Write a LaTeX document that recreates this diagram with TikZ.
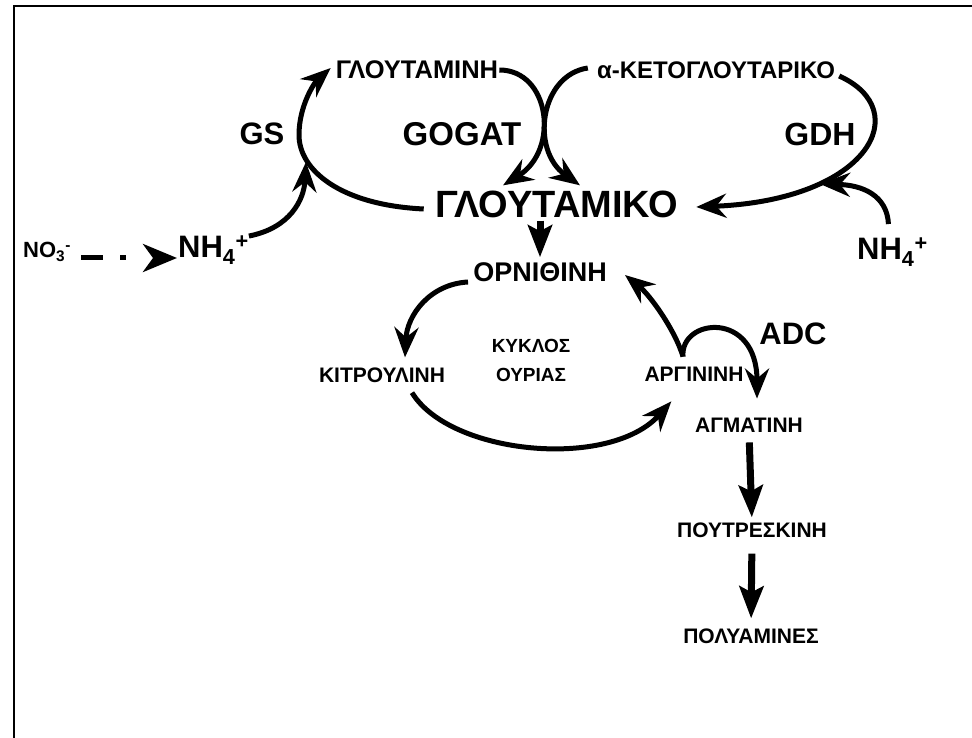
\documentclass[tikz,border=0pt]{standalone}
\usepackage{fontspec}
\setmainfont{Liberation Sans}
\usetikzlibrary{arrows.meta}

\begin{document}
\begin{tikzpicture}[
    x=1pt, y=-1pt,
    metab/.style={inner sep=0pt, align=center, font=\bfseries\fontsize{21}{29}\selectfont},
    bigmetab/.style={inner sep=0pt, font=\bfseries\fontsize{24}{29}\selectfont},
    mainmetab/.style={inner sep=0pt, font=\bfseries\fontsize{38}{42}\selectfont},
    enzyme/.style={inner sep=0pt, font=\bfseries\fontsize{31}{36}\selectfont},
    arrow/.style={-{Stealth[length=30pt, width=24pt, inset=10pt]}, line width=5pt},
    thickarrow/.style={-{Stealth[length=32pt, width=24pt, inset=6pt]}, line width=7pt},
    dasharrow/.style={-{Stealth[length=34pt, width=28pt, inset=10pt]}, line width=5pt, dash pattern=on 22pt off 17pt on 6pt off 30pt}
]
\useasboundingbox (0,0) rectangle (972,738);
\draw[line width=2pt] (14,760) -- (14,6) -- (990,6);

% Nodes
\node (glutamini) [bigmetab, font=\bfseries\fontsize{25.5}{29}\selectfont] at (417,70) {ΓΛΟΥΤΑΜΙΝΗ};
\node (keto) [bigmetab] at (716,70) {α-ΚΕΤΟΓΛΟΥΤΑΡΙΚΟ};
\node (gs) [enzyme] at (262,134) {GS};
\node (gogat) [enzyme, font=\bfseries\fontsize{33}{36}\selectfont] at (462,134) {GOGAT};
\node (gdh) [enzyme, font=\bfseries\fontsize{32}{36}\selectfont] at (820,134) {GDH};
\node (glutamiko) [mainmetab] at (557,204) {ΓΛΟΥΤΑΜΙΚΟ};
\node (nhleft) [enzyme, anchor=base west] at (178,258) {NH\textsubscript{4}\textsuperscript{+}};
\node (nhright) [enzyme, anchor=base west] at (857,260) {NH\textsubscript{4}\textsuperscript{+}};
\node (no3) [inner sep=0pt, anchor=base west, font=\bfseries\fontsize{22}{24}\selectfont] at (23,258) {NO\textsubscript{3}\textsuperscript{-}};

\node (ornithine) [metab, font=\bfseries\fontsize{27}{29}\selectfont] at (540,272) {ΟΡΝΙΘΙΝΗ};
\node (kitrulini) [metab] at (382,375) {ΚΙΤΡΟΥΛΙΝΗ};
\node (kyklos) [metab, font=\bfseries\fontsize{19}{29}\selectfont] at (531,360) {ΚΥΚΛΟΣ\\ΟΥΡΙΑΣ};
\node (arginini) [metab] at (694,374) {ΑΡΓΙΝΙΝΗ};
\node (adc) [enzyme] at (793,334) {ADC};
\node (agmatini) [metab] at (749,425) {ΑΓΜΑΤΙΝΗ};
\node (poutreskini) [metab] at (752,530) {ΠΟΥΤΡΕΣΚΙΝΗ};
\node (polyamines) [metab] at (751,636) {ΠΟΛΥΑΜΙΝΕΣ};

\coordinate (gsmerge) at (306,162);
\coordinate (gdhmerge) at (820,184);
\coordinate (argtop) at ([xshift=-11pt,yshift=10pt]arginini.north);

% Connections
\draw [dasharrow, shorten >=1pt] ([xshift=10pt]no3.base east) -- (nhleft.base west);
\draw [arrow] ([xshift=-12pt,yshift=-5pt]glutamiko.west) .. controls (340,205) and (299,170) .. (299,135)
    .. controls (299,105) and (315,82) .. ([xshift=-5pt,yshift=2pt]glutamini.west);
\draw [arrow] (nhleft.north east) .. controls (290,228) and (304,200) .. (gsmerge);
\draw [arrow] ([xshift=1pt]glutamini.east) .. controls (550,70) and (560,150) .. ([xshift=-54pt,yshift=5pt]glutamiko.north);
\draw [arrow] ([xshift=-9pt,yshift=2pt]keto.west) .. controls (540,75) and (530,150) .. ([xshift=23pt,yshift=5pt]glutamiko.north);
\draw [arrow] ([xshift=4pt,yshift=-6pt]keto.east) .. controls (915,110) and (870,200) .. ([xshift=18pt,yshift=-3pt]glutamiko.east);
\draw [arrow] ([xshift=-4pt,yshift=14pt]nhright.north) .. controls (887,195) and (862,185) .. (gdhmerge);
\draw [thickarrow, shorten <=3pt, shorten >=5pt] (ornithine.north |- glutamiko.south) -- (ornithine.north);

% Urea cycle
\draw [arrow] ([xshift=-5pt,yshift=-10pt]ornithine.west) .. controls (430,284) and (407,315) .. ([xshift=23pt,yshift=10pt]kitrulini.north);
\draw [arrow] ([xshift=30pt,yshift=-10pt]kitrulini.south) .. controls (450,455) and (610,470) .. ([xshift=27pt,yshift=-20pt]arginini.south west);
\draw [arrow] (argtop) .. controls (675,330) and (650,295) .. ([xshift=18pt,yshift=-3pt]ornithine.east);
\draw [arrow] (argtop) .. controls (680,318) and (757,310) .. ([xshift=8pt,yshift=19pt]agmatini.north);

% Polyamines
\draw [thickarrow, shorten <=10pt, shorten >=5pt] (agmatini.south) -- (poutreskini.north);
\draw [thickarrow, shorten <=16pt, shorten >=10pt] (poutreskini.south) -- (polyamines.north);

\end{tikzpicture}
\end{document}
